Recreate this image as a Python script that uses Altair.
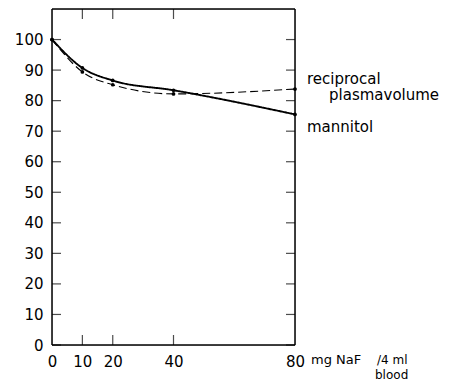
import altair as alt
import pandas as pd

# Data
dose = [0, 10, 20, 40, 80]
mannitol = [100, 90.7, 86.6, 83.4, 75.5]
recip = [100, 89.4, 85.2, 82.2, 83.8]
series_names = ["mannitol", "reciprocal plasmavolume"]
y_tick_values = [0, 10, 20, 30, 40, 50, 60, 70, 80, 90, 100]
x_tick_values = [0, 10, 20, 40, 80]
inner_x_ticks = [10, 20, 40]

FONT = "DejaVu Sans"
W, H = 243, 336

df = pd.DataFrame({
    "dose": dose * 2,
    "value": mannitol + recip,
    "series": [series_names[0]] * len(dose) + [series_names[1]] * len(dose),
})

xs = alt.Scale(domain=[0, 80], nice=False, zero=False)
ys = alt.Scale(domain=[0, 110], nice=False)

x_axis = alt.Axis(values=x_tick_values, ticks=False, domain=False, grid=False,
                  labelPadding=9, labelFontSize=15, labelFont=FONT,
                  labelColor="black", title=None, labelFlush=False, labelOverlap=False)
y_axis = alt.Axis(values=y_tick_values, ticks=False, domain=False, grid=False,
                  labelPadding=9, labelFontSize=15, labelFont=FONT,
                  labelColor="black", title=None, labelFlush=False, labelOverlap=False)


def X(field=None, datum=None):
    if datum is not None:
        return alt.X(datum=datum, scale=xs, axis=x_axis)
    return alt.X(field, type="quantitative", scale=xs, axis=x_axis)


def Y(field=None, datum=None):
    if datum is not None:
        return alt.Y(datum=datum, scale=ys, axis=y_axis)
    return alt.Y(field, type="quantitative", scale=ys, axis=y_axis)


base = alt.Chart(df)

lines = base.mark_line(interpolate="monotone", color="black").encode(
    x=X("dose"),
    y=Y("value"),
    detail="series:N",
    strokeDash=alt.StrokeDash("series:N", scale=alt.Scale(domain=series_names, range=[[1, 0], [8, 4]]), legend=None),
    strokeWidth=alt.StrokeWidth("series:N", scale=alt.Scale(domain=series_names, range=[1.9, 1.1]), legend=None),
)

points = base.mark_point(filled=True, color="black", size=14, opacity=1).encode(
    x=X("dose"), y=Y("value"),
)

ydf = pd.DataFrame({"v": y_tick_values})
xdf = pd.DataFrame({"v": inner_x_ticks})

left_ticks = alt.Chart(ydf).mark_tick(orient="horizontal", color="black", size=9, thickness=1.2).encode(
    y=Y("v"), x=alt.value(4.5))
right_ticks = alt.Chart(ydf).mark_tick(orient="horizontal", color="black", size=9, thickness=1.2).encode(
    y=Y("v"), x=alt.value(W - 4.5))
top_ticks = alt.Chart(xdf).mark_tick(orient="vertical", color="black", size=10, thickness=1.2).encode(
    x=X("v"), y=alt.value(5))
bottom_ticks = alt.Chart(xdf).mark_tick(orient="vertical", color="black", size=10, thickness=1.2).encode(
    x=X("v"), y=alt.value(H - 5))

# frame
frame_df = pd.DataFrame({"k": [0]})
frame = [
    alt.Chart(frame_df).mark_rule(color="black", strokeWidth=1.5).encode(
        x=alt.value(0), x2=alt.value(W), y=alt.value(0)),
    alt.Chart(frame_df).mark_rule(color="black", strokeWidth=1.5).encode(
        x=alt.value(0), x2=alt.value(W), y=alt.value(H)),
    alt.Chart(frame_df).mark_rule(color="black", strokeWidth=1.5).encode(
        x=alt.value(0), y=alt.value(0), y2=alt.value(H)),
    alt.Chart(frame_df).mark_rule(color="black", strokeWidth=1.5).encode(
        x=alt.value(W), y=alt.value(0), y2=alt.value(H)),
]


def label(text, xv, yv, dx, dy, size=15):
    return alt.Chart(pd.DataFrame({"t": [text]})).mark_text(
        align="left", baseline="middle", dx=dx, dy=dy, fontSize=size,
        font=FONT, color="black", clip=False
    ).encode(x=X(datum=xv), y=Y(datum=yv), text="t:N")


annotations = [
    label("reciprocal", dose[-1], recip[-1], 12, -10, 15),
    label("plasmavolume", dose[-1], recip[-1], 34, 6, 15),
    label("mannitol", dose[-1], mannitol[-1], 12, 13, 15),
    label("mg NaF", dose[-1], 0, 16, 15, 13),
    label("/4 ml", dose[-1], 0, 82, 15, 12),
    label("blood", dose[-1], 0, 80, 30, 12),
]

chart = alt.layer(lines, points, left_ticks, right_ticks, top_ticks, bottom_ticks, *frame, *annotations).properties(
    width=W, height=H,
    autosize=alt.AutoSizeParams(type="none"),
    padding={"left": 44, "top": 1, "right": 160, "bottom": 38},
).configure_view(
    stroke=None
).configure(background="white")

chart.save("out.html", embed_options={"renderer": "svg", "actions": False})
